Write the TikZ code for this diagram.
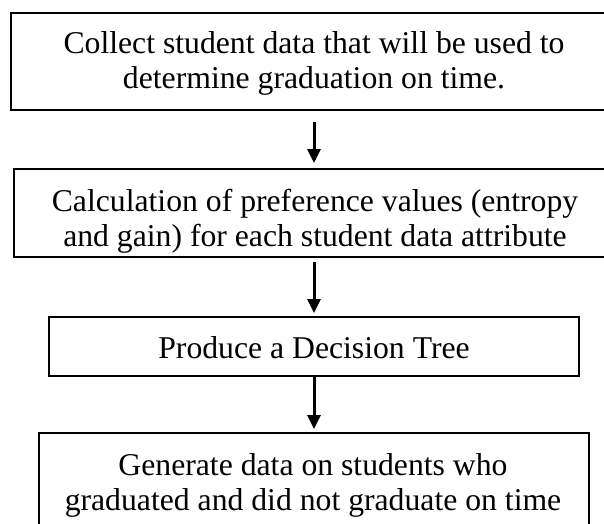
\documentclass[tikz,border=0pt]{standalone}
\usepackage{fontspec}
\setmainfont{Liberation Serif}
\usetikzlibrary{arrows.meta}
\begin{document}
\begin{tikzpicture}[x=1pt,y=-1pt,
  stepbox/.style={draw=black, line width=1.6pt, inner sep=0pt, outer sep=0pt},
  boxtext/.style={inner sep=0pt, align=center, font=\fontsize{31.7}{35}\selectfont},
  flow/.style={-{Triangle[width=13pt,length=14pt]}, line width=3pt}]
\useasboundingbox (0,0) rectangle (604,523);

% process boxes
\node[stepbox, minimum width=606pt, minimum height=97pt] (b1) at (314,61.5) {};
\node[stepbox, minimum width=600pt, minimum height=88pt] (b2) at (314,213) {};
\node[stepbox, minimum width=530pt, minimum height=59pt, line width=2pt] (b3) at (314,346.5) {};
\node[stepbox, minimum width=550pt, minimum height=99pt] (b4) at (314,482.5) {};

% box captions
\node[boxtext] (t1) at (314,63) {Collect student data that will be used to\\determine graduation on time.};
\node[boxtext] (t2) at (315,221.5) {Calculation of preference values (entropy\\and gain) for each student data attribute};
\node[boxtext] (t3) at (314,348) {Produce a Decision Tree};
\node[boxtext] (t4) at (313,485) {Generate data on students who\\graduated and did not graduate on time};

% flow arrows
\draw[flow, shorten <=12pt, shorten >=6pt] (b1.south) -- (b2.north);
\draw[flow, shorten <=5pt, shorten >=4pt] (b2.south) -- (b3.north);
\draw[flow, shorten <=1pt, shorten >=4pt] (b3.south) -- (b4.north);
\end{tikzpicture}
\end{document}
